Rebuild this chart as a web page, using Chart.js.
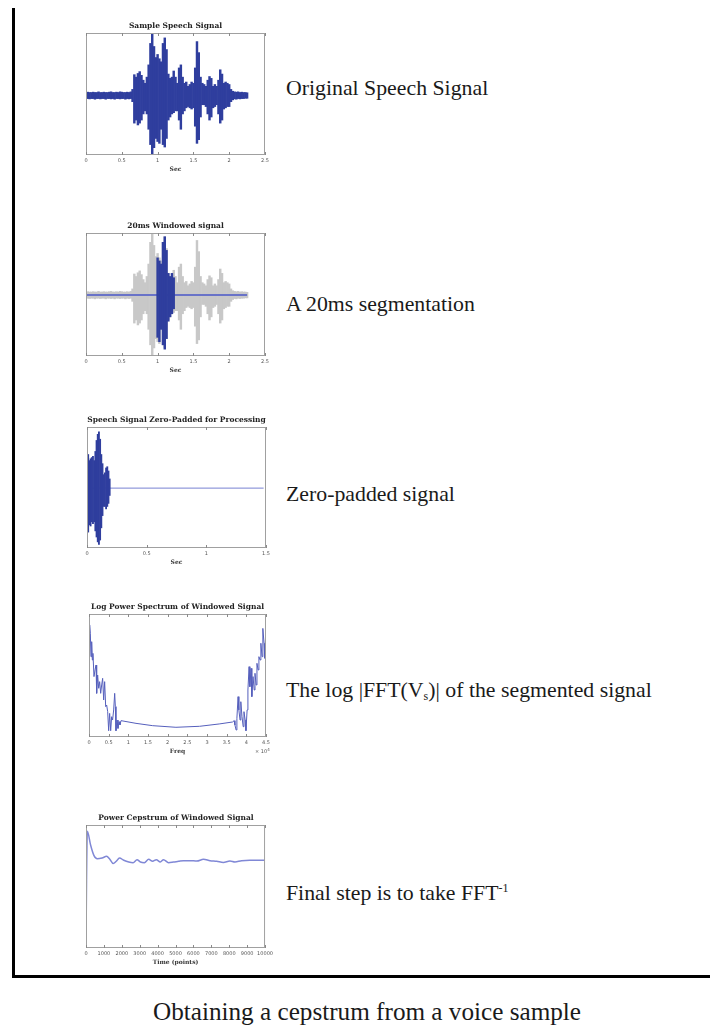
<!DOCTYPE html>
<html>
<head>
<meta charset="utf-8">
<script src="https://cdn.jsdelivr.net/npm/chart.js@4.4.1/dist/chart.umd.min.js"></script>
<style>
html,body{margin:0;padding:0;background:#fff;}
body{width:710px;height:1028px;position:relative;overflow:hidden;}
.frameL{position:absolute;left:12px;top:8px;width:3px;height:970px;background:#000;}
.frameB{position:absolute;left:12px;top:975px;width:698px;height:3px;background:#000;}
canvas{position:absolute;}
.lbl{position:absolute;left:286px;font-family:"Liberation Serif",serif;font-size:21.8px;color:#1a1a1a;white-space:nowrap;line-height:26px;}
.lbl sub{font-size:12px;vertical-align:-3px;line-height:0;}
.lbl sup{font-size:12px;vertical-align:8px;line-height:0;}
.cap{position:absolute;left:367px;top:998px;transform:translateX(-50%);font-family:"Liberation Serif",serif;font-size:25.2px;color:#1a1a1a;white-space:nowrap;line-height:28px;}
.exp{position:absolute;left:255px;top:748px;font-family:"DejaVu Sans",sans-serif;font-size:5px;color:#555;white-space:nowrap;line-height:6px;}
.exp sup{font-size:4px;vertical-align:2px;line-height:0;}
</style>
</head>
<body>
<div class="frameL"></div>
<div class="frameB"></div>

<canvas id="c1" width="199" height="158" style="left:76px;top:19px"></canvas>
<canvas id="c2" width="199" height="159" style="left:76px;top:219px"></canvas>
<canvas id="c3" width="199" height="157" style="left:77px;top:413px"></canvas>
<canvas id="c4" width="197" height="159" style="left:79px;top:600px"></canvas>
<canvas id="c5" width="200" height="159" style="left:76px;top:811px"></canvas>

<div class="lbl" style="top:75px">Original Speech Signal</div>
<div class="lbl" style="top:291px">A 20ms segmentation</div>
<div class="lbl" style="top:481px">Zero-padded signal</div>
<div class="lbl" style="top:677px">The log |FFT(V<sub>s</sub>)| of the segmented signal</div>
<div class="lbl" style="top:880px">Final step is to take FFT<sup>-1</sup></div>
<div class="exp">× 10<sup>4</sup></div>
<div class="cap">Obtaining a cepstrum from a voice sample</div>

<script>
// ---------- DATA ----------
// Chart 1 / 2 : speech signal envelope (max / min per 25 ms bin), seconds
const sigTime = [0,0.025,0.05,0.075,0.1,0.125,0.15,0.175,0.2,0.225,0.25,0.275,0.3,0.325,0.35,0.375,0.4,0.425,0.45,0.475,0.5,0.525,0.55,0.575,0.6,0.625,
  0.65,0.675,0.7,0.725,0.75,0.775,0.8,0.825,0.85,0.875,0.9,0.925,0.95,0.975,1.0,1.025,1.05,1.075,1.1,1.125,1.15,1.175,1.2,1.225,
  1.25,1.275,1.3,1.325,1.35,1.375,1.4,1.425,1.45,1.475,1.5,1.525,1.55,1.575,1.6,1.625,1.65,1.675,1.7,1.725,1.75,1.775,1.8,1.825,
  1.85,1.875,1.9,1.925,1.95,1.975,2.0,2.025,2.05,2.075,2.1,2.125,2.15,2.175,2.2,2.225,2.25];
const sigUpper = [0.05,0.055,0.05,0.05,0.055,0.05,0.05,0.06,0.05,0.05,0.055,0.05,0.05,0.055,0.06,0.05,0.05,0.055,0.05,0.06,0.055,0.05,0.05,0.055,0.05,0.06,
  0.10,0.34,0.30,0.36,0.39,0.33,0.25,0.20,0.30,0.50,0.85,1.02,0.80,0.62,0.67,0.60,0.55,0.85,0.94,0.75,0.35,0.28,0.30,0.40,
  0.30,0.20,0.45,0.50,0.30,0.20,0.22,0.15,0.18,0.22,0.20,0.45,0.88,0.70,0.30,0.20,0.18,0.15,0.25,0.31,0.28,0.15,0.18,0.15,
  0.25,0.42,0.35,0.20,0.22,0.20,0.18,0.10,0.07,0.06,0.055,0.06,0.05,0.055,0.05,0.05,0.045];
const sigLower = [-0.05,-0.05,-0.055,-0.05,-0.05,-0.06,-0.05,-0.05,-0.055,-0.05,-0.05,-0.06,-0.05,-0.05,-0.055,-0.05,-0.06,-0.05,-0.05,-0.055,-0.05,-0.05,-0.06,-0.05,-0.055,-0.05,
  -0.10,-0.45,-0.40,-0.48,-0.45,-0.40,-0.30,-0.25,-0.30,-0.55,-0.80,-0.97,-0.85,-0.70,-0.75,-0.78,-0.55,-0.80,-0.84,-0.70,-0.40,-0.35,-0.30,-0.28,
  -0.25,-0.25,-0.40,-0.55,-0.30,-0.25,-0.20,-0.18,-0.20,-0.22,-0.20,-0.50,-0.78,-0.72,-0.35,-0.15,-0.15,-0.18,-0.30,-0.40,-0.35,-0.20,-0.18,-0.15,
  -0.30,-0.45,-0.40,-0.22,-0.20,-0.18,-0.18,-0.10,-0.07,-0.055,-0.06,-0.05,-0.055,-0.05,-0.05,-0.045,-0.045];

// Chart 2 : 20 ms window (blue part)
const winTime  = [1.0,1.025,1.05,1.075,1.1,1.125,1.15,1.175,1.2,1.225];
const winUpper = [0.60,0.55,0.50,0.85,0.94,0.72,0.35,0.30,0.35,0.28];
const winLower = [-0.68,-0.75,-0.55,-0.80,-0.87,-0.70,-0.42,-0.35,-0.30,-0.22];
const winZeroTime = [0, 2.25];
const winZeroValue = [0, 0];

// Chart 3 : zero padded segment (10 ms bins)
const padTime  = [0,0.01,0.02,0.03,0.04,0.05,0.06,0.07,0.08,0.09,0.10,0.11,0.12,0.13,0.14,0.15,0.16,0.17,0.18,0.19];
const padUpper = [0.60,0.55,0.45,0.48,0.50,0.52,0.45,0.60,0.78,0.88,0.92,0.80,0.55,0.40,0.22,0.25,0.33,0.35,0.28,0.15];
const padLower = [-0.70,-0.72,-0.60,-0.62,-0.55,-0.58,-0.55,-0.70,-0.80,-0.88,-0.92,-0.85,-0.65,-0.45,-0.30,-0.30,-0.34,-0.30,-0.25,-0.12];
const padZeroTime = [0, 1.48];
const padZeroValue = [0, 0];

// Chart 4 : log power spectrum (freq in units of 10^4)
const specFreq = [0,0.017,0.034,0.051,0.068,0.085,0.10,0.127,0.153,0.178,0.195,0.22,0.246,0.271,0.297,0.322,0.347,0.373,0.398,0.424,0.449,0.475,0.50,0.525,0.551,0.576,0.60,0.627,0.653,0.67,0.686,0.712,0.737,0.763,0.788,0.814,
  1.195,1.62,2.21,2.81,3.31,3.65,
  3.69,3.71,3.74,3.76,3.79,3.81,3.84,3.86,3.89,3.92,3.94,3.97,3.99,4.02,4.04,4.07,4.09,4.12,4.14,4.17,4.20,4.22,4.25,4.27,4.30,4.32,4.35,4.37,4.40,4.42,4.45,4.47,4.49];
const specPower = [6.53,9.11,8.43,6.53,7.75,6.26,6.80,4.91,5.45,5.85,3.55,5.04,3.96,4.50,3.55,4.23,4.77,3.01,4.50,2.47,2.60,2.06,0.51,1.92,0.51,1.65,1.38,2.20,3.55,2.47,0.51,1.38,0.70,1.25,0.98,1.33,
  1.11,0.92,0.79,0.87,1.06,1.22,
  1.33,0.98,0.57,1.52,3.28,2.20,1.38,2.87,1.65,0.84,2.06,1.38,0.51,2.20,3.82,5.72,4.09,5.58,3.28,4.91,3.82,5.18,4.23,5.99,5.45,6.53,6.26,7.62,6.53,8.83,7.62,6.40,8.16];

// Chart 5 : power cepstrum
const cepTime  = [0,30,75,260,440,630,900,1150,1330,1520,1690,1870,2110,2390,2630,2850,3040,3260,3500,3720,3930,4150,4330,4610,4890,5170,5440,5820,6190,6560,6930,7300,7670,8040,8320,8690,9150,10000];
const cepValue = [0.3,5.5,9.5,8.35,7.53,7.26,7.32,7.45,7.21,6.86,7.05,7.32,7.13,6.99,6.94,7.18,6.99,6.94,7.21,7.05,7.18,6.99,7.18,6.94,6.99,7.05,7.10,7.10,7.07,7.21,7.10,7.05,6.96,7.07,6.99,7.10,7.13,7.13];

// Tick settings
const ticks1 = {min:0, max:2.5, step:0.5};
const ticks3 = {min:0, max:1.5, step:0.5};
const ticks4 = {min:0, max:4.5, step:0.5};
const ticks5 = {min:0, max:10000, step:1000};

// ---------- STYLE / HELPERS ----------
const BLUE = 'rgb(47,62,158)';
const GREY = 'rgb(200,200,200)';

const matlabBox = {
  id: 'matlabBox',
  afterDatasetsDraw(chart) {
    const {ctx, chartArea: a} = chart;
    const xs = chart.scales.x;
    ctx.save();
    ctx.strokeStyle = '#a0a0a0';
    ctx.lineWidth = 1;
    ctx.strokeRect(a.left + 0.5, a.top + 0.5, a.right - a.left - 1, a.bottom - a.top - 1);
    ctx.strokeStyle = '#8a8a8a';
    xs.ticks.forEach(t => {
      const p = Math.round(xs.getPixelForValue(t.value)) + 0.5;
      ctx.beginPath();
      ctx.moveTo(p, a.bottom); ctx.lineTo(p, a.bottom - 3);
      ctx.moveTo(p, a.top); ctx.lineTo(p, a.top + 3);
      ctx.stroke();
    });
    ctx.restore();
  }
};

function bands(times, up, lo) { return times.map((t, i) => ({x: t, y: [lo[i], up[i]]})); }
function pts(xs, ys) { return xs.map((x, i) => ({x: x, y: ys[i]})); }

function opts(title, xTitle, tk, yMin, yMax) {
  return {
    responsive: false, animation: false, events: [],
    layout: {padding: {left: 10, right: 10, top: 3, bottom: 0}},
    plugins: {
      legend: {display: false}, tooltip: {enabled: false},
      title: {display: true, text: title, color: '#222',
        font: {family: 'DejaVu Serif', weight: 'bold', size: 7.5, lineHeight: 1},
        padding: {top: 0, bottom: 3.5}}
    },
    scales: {
      x: {type: 'linear', min: tk.min, max: tk.max, offset: false,
        ticks: {stepSize: tk.step, autoSkip: false, maxRotation: 0, color: '#555',
          font: {family: 'DejaVu Sans', size: 5}, padding: 3,
          callback: v => String(Math.round(v * 100) / 100)},
        grid: {display: false, drawTicks: false},
        border: {display: false},
        title: {display: true, text: xTitle, color: '#333',
          font: {family: 'DejaVu Serif', weight: 'bold', size: 6, lineHeight: 1},
          padding: {top: 0, bottom: 5}},
        afterFit(s) { s.height = 22; }
      },
      y: {display: false, min: yMin, max: yMax}
    }
  };
}

function barSet(data, color, order) {
  return {type: 'bar', data: data, backgroundColor: color, borderWidth: 0,
    barPercentage: 1, categoryPercentage: 1, grouped: false, order: order};
}
function lineSet(data, color, width, order, extra) {
  return Object.assign({type: 'line', data: data, borderColor: color, borderWidth: width,
    pointRadius: 0, tension: 0, fill: false, order: order}, extra || {});
}

// ---------- CHARTS ----------
new Chart(document.getElementById('c1'), {
  type: 'bar',
  data: {datasets: [barSet(bands(sigTime, sigUpper, sigLower), BLUE, 0)]},
  options: opts('Sample Speech Signal', 'Sec', ticks1, -0.97, 1.02),
  plugins: [matlabBox]
});

new Chart(document.getElementById('c2'), {
  type: 'bar',
  data: {datasets: [
    barSet(bands(winTime, winUpper, winLower), BLUE, 0),
    lineSet(pts(winZeroTime, winZeroValue), 'rgb(105,115,200)', 2, 1),
    barSet(bands(sigTime, sigUpper, sigLower), GREY, 2)
  ]},
  options: opts('20ms Windowed signal', 'Sec', ticks1, -0.98, 1.0),
  plugins: [matlabBox]
});

new Chart(document.getElementById('c3'), {
  type: 'bar',
  data: {datasets: [
    barSet(bands(padTime, padUpper, padLower), BLUE, 0),
    lineSet(pts(padZeroTime, padZeroValue), 'rgb(120,130,210)', 1, 1)
  ]},
  options: opts('Speech Signal Zero-Padded for Processing', 'Sec', ticks3, -0.98, 1.0),
  plugins: [matlabBox]
});

new Chart(document.getElementById('c4'), {
  type: 'line',
  data: {datasets: [lineSet(pts(specFreq, specPower), 'rgb(85,95,188)', 1, 0)]},
  options: opts('Log Power Spectrum of Windowed Signal', 'Freq', ticks4, 0, 10),
  plugins: [matlabBox]
});

new Chart(document.getElementById('c5'), {
  type: 'line',
  data: {datasets: [lineSet(pts(cepTime, cepValue), 'rgb(128,136,214)', 1.5, 0, {cubicInterpolationMode: 'monotone'})]},
  options: opts('Power Cepstrum of Windowed Signal', 'Time (points)', ticks5, 0, 10),
  plugins: [matlabBox]
});
</script>
</body>
</html>
